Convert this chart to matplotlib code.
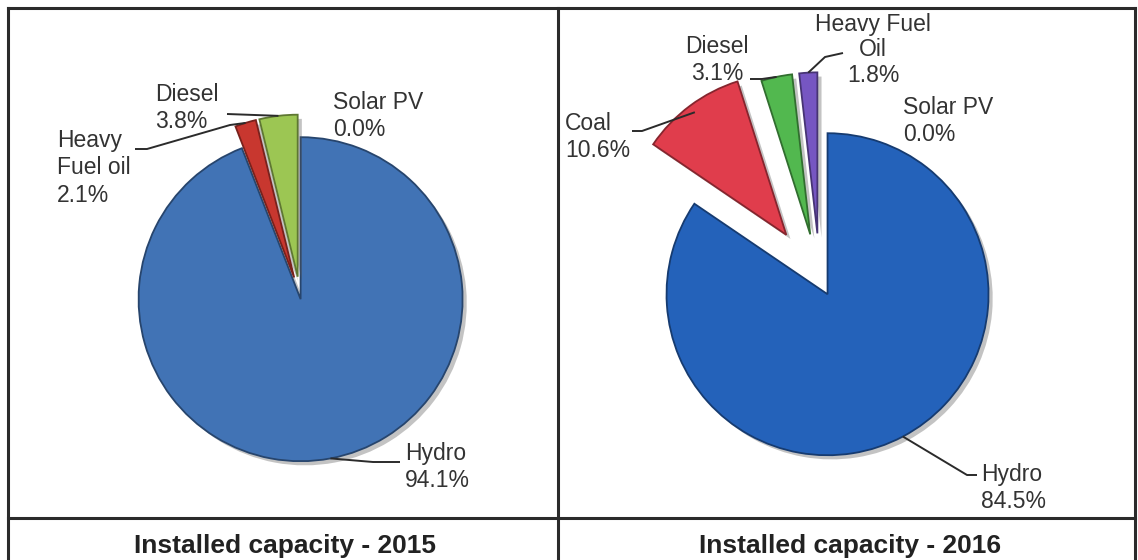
import numpy as np
import matplotlib
matplotlib.use("Agg")
import matplotlib.pyplot as plt
import matplotlib.patheffects as pe

W, H = 1138, 560

# 2015 installed capacity shares (%), clockwise from 12 o'clock
cats_2015 = ["Hydro", "Heavy\nFuel oil", "Diesel", "Solar PV"]
vals_2015 = [94.1, 2.1, 3.8, 0.0]
cols_2015 = ["#4173b5", "#c8372f", "#9cc653", "#f2d43c"]
expl_2015 = [0.02, 0.12, 0.12, 0.12]

# 2016 installed capacity shares (%)
cats_2016 = ["Hydro", "Coal", "Diesel", "Heavy Fuel\nOil", "Solar PV"]
vals_2016 = [84.5, 10.6, 3.1, 1.8, 0.0]
cols_2016 = ["#2462ba", "#e03d4c", "#52b84f", "#7656c2", "#f2d43c"]
expl_2016 = [0.10, 0.35, 0.29, 0.29, 0.29]

titles = ["Installed capacity - 2015", "Installed capacity - 2016"]

TXT = "#333333"
LINE = "#2b2b2b"
FS = 16.5


def Y(y):
    # reference pixel rows run top-down
    return H - y


def darker(c, k=0.6):
    r, g, b = matplotlib.colors.to_rgb(c)
    return (r * k, g * k, b * k)


def rim(w, frac=1.0):
    ang = np.deg2rad((w.theta1 + w.theta2) / 2)
    cx, cy = w.center
    return cx + w.r * frac * np.cos(ang), cy + w.r * frac * np.sin(ang)


def leader(ax, w, pts, frac=1.0):
    xs = [p[0] for p in pts]
    ys = [Y(p[1]) for p in pts]
    ax_, ay_ = rim(w, frac)
    ax.plot(xs + [ax_], ys + [ay_], color=LINE, lw=1.4, zorder=5,
            solid_capstyle="butt")


def label(ax, x, y, s, ha="left", ls=1.27):
    ax.text(x, Y(y), s, ha=ha, va="center", fontsize=FS, color=TXT,
            linespacing=ls, multialignment=ha, family="Liberation Sans")


def draw_pie(ax, vals, cols, expl, center, r):
    # pie() takes explode in data units, so scale the fractions by radius
    wedges, _ = ax.pie(vals, colors=cols, explode=[e * r for e in expl],
                       startangle=90, counterclock=False,
                       center=(center[0], Y(center[1])), radius=r)
    for w, v, c in zip(wedges, vals, cols):
        if v == 0:
            w.set_linewidth(0)
            continue
        w.set_edgecolor(darker(c))
        w.set_linewidth(1.3)
        w.set_path_effects([pe.SimplePatchShadow(offset=(3, -3), alpha=0.35,
                                                 shadow_rgbFace="#555555"),
                            pe.Normal()])
    return wedges


fig = plt.figure(figsize=(W / 100, H / 100), dpi=100)
ax = fig.add_axes([0, 0, 1, 1])

wl = draw_pie(ax, vals_2015, cols_2015, expl_2015, (300, 296), 162)
wr = draw_pie(ax, vals_2016, cols_2016, expl_2016, (820, 280), 161)

# 2015 labels
leader(ax, wl[0], [(400, 462), (373, 462)])
label(ax, 405, 467, f"{cats_2015[0]}\n{vals_2015[0]:.1f}%")
leader(ax, wl[1], [(135, 149), (147, 149), (230, 125)])
label(ax, 57, 168, f"{cats_2015[1]}\n{vals_2015[1]:.1f}%")
leader(ax, wl[2], [(227, 114)])
label(ax, 155, 108, f"{cats_2015[2]}\n{vals_2015[2]:.1f}%")
label(ax, 333, 116, f"{cats_2015[3]}\n{vals_2015[3]:.1f}%")

# 2016 labels
leader(ax, wr[0], [(977, 475), (967, 475)])
label(ax, 981, 488, f"{cats_2016[0]}\n{vals_2016[0]:.1f}%")
leader(ax, wr[1], [(632, 131), (642, 131)], frac=0.95)
label(ax, 565, 137, f"{cats_2016[1]}\n{vals_2016[1]:.1f}%")
leader(ax, wr[2], [(750, 79), (762, 79)])
label(ax, 717, 60, f"{cats_2016[2]}\n{vals_2016[2]:.1f}%", ha="center")
leader(ax, wr[3], [(843, 53), (825, 57)])
label(ax, 873, 50, f"{cats_2016[3]}\n{vals_2016[3]:.1f}%", ha="center", ls=1.12)
label(ax, 903, 121, f"{cats_2016[4]}\n{vals_2016[4]:.1f}%")

# table frame
for x0, y0, x1, y1 in [(8, 8, 1135, 8), (8, 8, 8, 560), (1135, 8, 1135, 560),
                       (558, 8, 558, 560), (8, 518, 1135, 518)]:
    ax.plot([x0, x1], [Y(y0), Y(y1)], color=LINE, lw=2.2, zorder=6)

for x, t in zip([285, 850], titles):
    ax.text(x, Y(546), t, ha="center", va="center", fontsize=19,
            fontweight="bold", color="#222222", family="Liberation Sans")

ax.set_xlim(0, W)
ax.set_ylim(0, H)
ax.set_aspect("auto")
ax.axis("off")

fig.savefig("out.png", dpi=100)
